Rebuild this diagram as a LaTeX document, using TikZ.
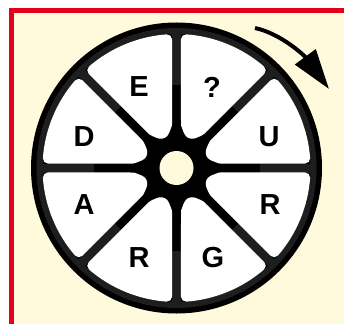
\documentclass[tikz,border=0pt]{standalone}
\usepackage{fontspec}
\setmainfont{Liberation Sans}
\usetikzlibrary{arrows.meta}
\definecolor{cream}{HTML}{FFFADC}
\definecolor{framered}{HTML}{E2001A}
\definecolor{rimgray}{HTML}{1E1E1E}
\begin{document}
\begin{tikzpicture}[x=1pt,y=1pt,
  letter/.style={font=\fontsize{29}{29}\selectfont\bfseries, inner sep=0pt, anchor=center},
  sector/.style={fill=white, draw=white, line width=10pt, line join=round}]
\useasboundingbox (0,0) rectangle (344,324);
\fill[white] (0,0) rectangle (344,324);
\fill[framered] (8.5,0) rectangle (344,315.5);
\fill[cream] (13.5,0) rectangle (344,310.5);
\coordinate (c) at (176.5,156);
% wheel
\fill[black] (c) circle (145.5);
\fill[rimgray, even odd rule] (c) circle (140) (c) circle (134);
\foreach \a in {0,45,...,315}{
  \fill[rimgray, shift={(c)}, rotate=\a] (83,-4.5) rectangle (137,4.5);
}
\foreach \a in {0,45,...,315}{
  \path[sector, shift={(c)}, rotate=\a]
    (43.69,9.5) -- (4.21:129) arc[start angle=4.21, end angle=40.79, radius=129]
    -- (37.61,24.18) .. controls (22.5:35) .. cycle;
}
\fill[cream] (c) circle (17);
% letters
\node[letter] (lE) at (139,237) {E};
\node[letter] (lQ) at (212,237) {?};
\node[letter] (lD) at (84,187) {D};
\node[letter] (lU) at (269,187) {U};
\node[letter] (lA) at (84,119) {A};
\node[letter] (lR) at (270,119) {R};
\node[letter] (lR2) at (139,66) {R};
\node[letter] (lG) at (213,66) {G};
% arrow
\coordinate (a1) at (255,296);
\coordinate (a2) at (329,235);
\draw[line width=4pt, -{Triangle[length=40pt,width=25pt]}]
  (a1) .. controls (282,290) and (305,267.6) .. (a2);
\end{tikzpicture}
\end{document}
